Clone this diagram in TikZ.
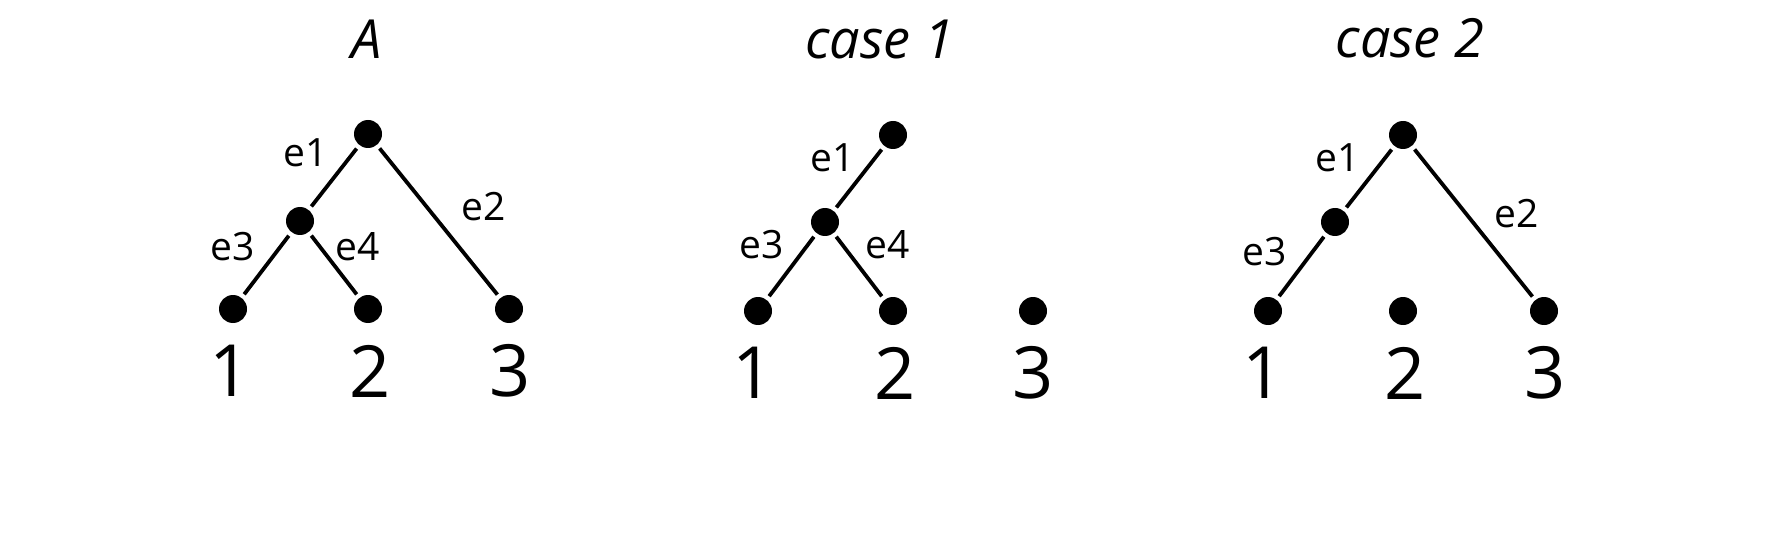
\documentclass[tikz,border=0pt]{standalone}
\usepackage{fontspec}
\setmainfont{Open Sans}
\begin{document}
\begin{tikzpicture}[x=1pt,y=-1pt,
  dot/.style={circle,fill=black,minimum size=28pt,inner sep=0pt,outer sep=4.5pt},
  edge/.style={line width=3.8pt},
  leaflab/.style={font=\fontsize{72}{80}\selectfont,inner sep=0pt},
  elab/.style={font=\fontsize{39}{46}\selectfont,inner sep=0pt},
  ttl/.style={font=\fontsize{54}{64}\selectfont\itshape,inner sep=0pt}]
\useasboundingbox (0,0) rectangle (1786,548);
% ---- A ----
\node[ttl] (tA) at (367,39) {A};
\node[dot] (ar) at (368,134) {};
\node[dot] (am) at (300,221) {};
\node[dot] (a1) at (233,309) {};
\node[dot] (a2) at (368,309) {};
\node[dot] (a3) at (509,309) {};
\draw[edge] (ar) -- (am);
\draw[edge] (ar) -- (a3);
\draw[edge] (am) -- (a1);
\draw[edge] (am) -- (a2);
\node[elab] (ae1) at (306,153) {e1};
\node[elab] (ae2) at (484,207) {e2};
\node[elab] (ae3) at (233,247) {e3};
\node[elab] (ae4) at (358,247) {e4};
\node[leaflab] (al1) at (230,371) {1};
\node[leaflab] (al2) at (370,371) {2};
\node[leaflab] (al3) at (510,371) {3};
% ---- case 1 ----
\node[ttl] (tB) at (880,39) {case 1};
\node[dot] (br) at (893,135) {};
\node[dot] (bm) at (825,222) {};
\node[dot] (b1) at (758,311) {};
\node[dot] (b2) at (893,311) {};
\node[dot] (b3) at (1033,311) {};
\draw[edge] (br) -- (bm);
\draw[edge] (bm) -- (b1);
\draw[edge] (bm) -- (b2);
\node[elab] (be1) at (833,158) {e1};
\node[elab] (be3) at (762,245) {e3};
\node[elab] (be4) at (888,245) {e4};
\node[leaflab] (bl1) at (753,373) {1};
\node[leaflab] (bl2) at (895,373) {2};
\node[leaflab] (bl3) at (1033,373) {3};
% ---- case 2 ----
\node[ttl] (tC) at (1410,38) {case 2};
\node[dot] (cr) at (1403,135) {};
\node[dot] (cm) at (1335,222) {};
\node[dot] (c1) at (1268,311) {};
\node[dot] (c2) at (1403,311) {};
\node[dot] (c3) at (1544,311) {};
\draw[edge] (cr) -- (cm);
\draw[edge] (cm) -- (c1);
\draw[edge] (cr) -- (c3);
\node[elab] (ce1) at (1338,158) {e1};
\node[elab] (ce2) at (1517,214) {e2};
\node[elab] (ce3) at (1265,252) {e3};
\node[leaflab] (cl1) at (1263,373) {1};
\node[leaflab] (cl2) at (1405,373) {2};
\node[leaflab] (cl3) at (1545,373) {3};
\end{tikzpicture}
\end{document}
